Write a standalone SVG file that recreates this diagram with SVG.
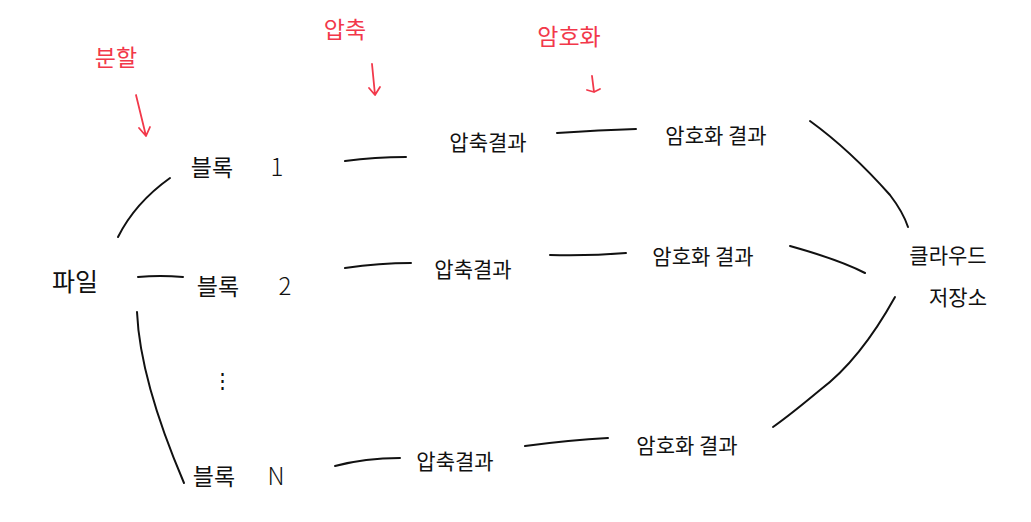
<svg xmlns="http://www.w3.org/2000/svg" width="1031" height="522" viewBox="0 0 1031 522">
<style>
text{font-family:"Noto Sans CJK KR","Noto Sans",sans-serif;font-size:21px;fill:#111;text-anchor:middle;font-weight:400}
.red{fill:#f2384a;font-size:23px}
.blk{font-size:23px}
.num{font-size:24px;font-weight:300}
.ln{fill:none;stroke:#111;stroke-width:2;stroke-linecap:round}
.ra{fill:none;stroke:#f2384a;stroke-width:1.8;stroke-linecap:round;stroke-linejoin:round}
</style>
<rect width="1031" height="522" fill="#fff"/>
<g id="steps">
<text class="red" x="116" y="66">분할</text>
<path class="ra" d="M136 95 L146 136 M139 128 L146 136 L150 127"/>
<text class="red" x="345" y="38">압축</text>
<path class="ra" d="M372 64 L375 95 M369 88 L375 95 L380 87"/>
<text class="red" x="569" y="45">암호화</text>
<path class="ra" d="M592 76 L594 92 M587 90 L594 92 L600 89"/>
</g>
<g id="file"><text x="75" y="291" style="font-size:25px">파일</text></g>
<g id="block1"><text class="blk" x="212" y="176">블록<tspan class="num" x="277">1</tspan></text></g>
<g id="block2"><text class="blk" x="218" y="295">블록<tspan class="num" x="285">2</tspan></text></g>
<g id="dots"><text x="222" y="388">⋮</text></g>
<g id="blockN"><text class="blk" x="214" y="485">블록<tspan class="num" x="276">N</tspan></text></g>
<g id="comp1"><text x="488" y="150">압축결과</text></g>
<g id="comp2"><text x="473" y="277">압축결과</text></g>
<g id="comp3"><text x="455" y="469">압축결과</text></g>
<g id="enc1"><text x="716" y="143">암호화 결과</text></g>
<g id="enc2"><text x="703" y="264">암호화 결과</text></g>
<g id="enc3"><text x="687" y="453">암호화 결과</text></g>
<g id="cloud"><text x="948" y="263">클라우드</text><text x="958" y="305">저장소</text></g>
<g id="connectors">
<path class="ln" d="M118 237 Q135 203 170 178"/>
<path class="ln" d="M138 277 Q160 275 183 277"/>
<path class="ln" d="M137 312 Q140 380 184 483"/>
<path class="ln" d="M345 161 Q375 157 406 157"/>
<path class="ln" d="M345 268 Q380 263 411 263"/>
<path class="ln" d="M335 466 Q365 458 400 458"/>
<path class="ln" d="M557 133 Q600 130 636 129"/>
<path class="ln" d="M550 255 Q590 256 626 253"/>
<path class="ln" d="M525 446 Q570 440 608 438"/>
<path class="ln" d="M810 121 Q850 150 890 195 Q903 212 908 227"/>
<path class="ln" d="M790 246 Q840 260 865 273"/>
<path class="ln" d="M895 297 Q860 360 820 390 Q790 415 773 427"/>
</g>
</svg>
